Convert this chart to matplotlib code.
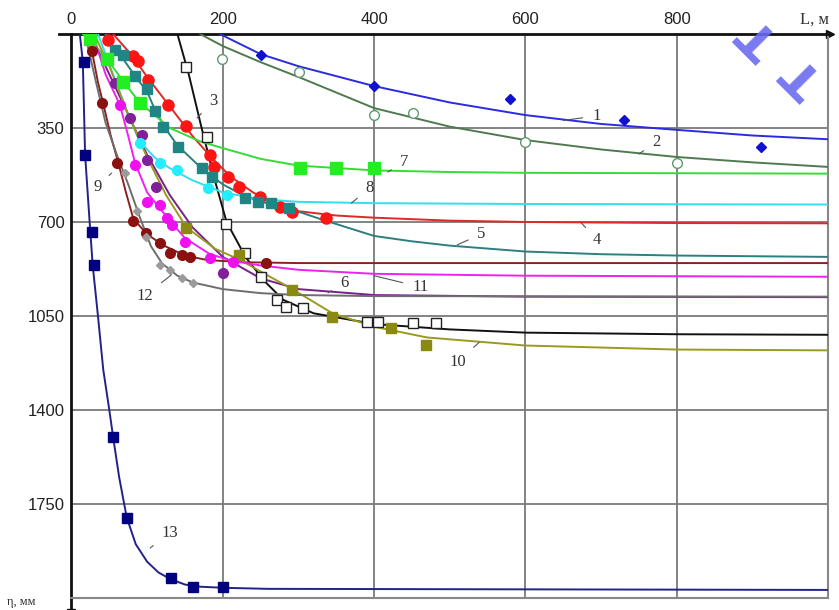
import matplotlib.pyplot as plt

# --- data: L (m) vs eta (mm) ---
# fitted curves (line) and measured points (markers) for curves 1..13
c1_x = [196, 250, 300, 400, 500, 600, 700, 800, 900, 1000]
c1_y = [0, 75, 120, 194, 255, 302, 335, 357, 378, 392]
p1_x = [251, 400, 580, 730, 911]
p1_y = [78, 194, 242, 320, 421]

c2_x = [170, 200, 250, 300, 400, 500, 600, 700, 800, 900, 1000]
c2_y = [0, 45, 105, 160, 276, 345, 395, 430, 458, 478, 495]
p2_x = [199, 301, 400, 451, 600, 800]
p2_y = [93, 141, 302, 294, 402, 480]

c3_x = [140, 155, 172, 190, 205, 230, 255, 280, 320, 400, 500, 600, 800, 1000]
c3_y = [0, 150, 350, 550, 700, 830, 920, 990, 1040, 1080, 1100, 1112, 1118, 1120]
p3_x = [151, 179, 204, 229, 251, 271, 284, 306, 390, 405, 451, 482]
p3_y = [123, 383, 707, 815, 905, 990, 1016, 1020, 1072, 1072, 1076, 1076]

c4_x = [55, 80, 100, 130, 160, 185, 210, 240, 270, 300, 350, 400, 500, 600, 800, 1000]
c4_y = [0, 80, 160, 270, 380, 460, 530, 590, 635, 660, 676, 684, 695, 700, 704, 705]
p4_x = [48, 81, 88, 101, 128, 151, 183, 189, 207, 222, 249, 275, 291, 337]
p4_y = [22, 83, 100, 171, 264, 342, 450, 495, 532, 570, 607, 644, 663, 685]

c5_x = [45, 57, 70, 85, 100, 110, 125, 140, 170, 200, 230, 260, 290, 330, 400, 450, 500, 600, 700, 800, 1000]
c5_y = [0, 60, 100, 160, 215, 280, 355, 415, 495, 560, 605, 632, 652, 690, 752, 772, 788, 810, 820, 825, 830]
p5_x = [57, 68, 84, 100, 110, 121, 141, 172, 186, 229, 246, 264, 288]
p5_y = [60, 80, 158, 205, 287, 346, 420, 498, 532, 611, 625, 629, 648]

c6_x = [25, 50, 75, 100, 130, 160, 200, 250, 300, 400, 600, 1000]
c6_y = [0, 150, 300, 450, 600, 720, 830, 910, 950, 972, 978, 980]
p6_x = [57, 77, 93, 100, 112, 200]
p6_y = [183, 313, 376, 469, 569, 890]

c7_x = [15, 24, 47, 68, 90, 130, 170, 200, 250, 300, 400, 500, 600, 1000]
c7_y = [0, 20, 93, 175, 255, 350, 400, 425, 465, 490, 508, 514, 517, 520]
p7_x = [24, 47, 68, 90, 302, 350, 400]
p7_y = [19, 93, 179, 257, 500, 500, 500]

c8_x = [35, 55, 75, 90, 110, 130, 160, 200, 250, 300, 400, 600, 1000]
c8_y = [0, 150, 300, 400, 460, 500, 545, 590, 615, 625, 630, 633, 635]
p8_x = [90, 117, 139, 180, 205]
p8_y = [406, 480, 506, 573, 600]

c9_x = [20, 27, 35, 42, 52, 62, 72, 82, 100, 120, 150, 180, 230, 300, 1000]
c9_y = [0, 63, 180, 260, 380, 480, 590, 690, 745, 785, 825, 842, 850, 853, 853]
p9_x = [27, 40, 60, 81, 99, 117, 130, 146, 156, 257]
p9_y = [63, 257, 480, 696, 741, 778, 815, 823, 830, 853]

c10_x = [30, 50, 75, 100, 125, 152, 190, 222, 260, 292, 345, 400, 470, 600, 800, 1000]
c10_y = [0, 120, 300, 460, 600, 720, 800, 840, 900, 950, 1040, 1090, 1130, 1160, 1175, 1178]
p10_x = [152, 222, 292, 345, 423, 469]
p10_y = [722, 823, 953, 1053, 1095, 1158]

c11_x = [28, 45, 64, 75, 84, 100, 117, 133, 150, 183, 213, 250, 300, 400, 600, 1000]
c11_y = [0, 150, 264, 380, 480, 590, 650, 705, 760, 820, 845, 862, 878, 893, 900, 904]
p11_x = [64, 84, 100, 117, 126, 133, 150, 183, 213]
p11_y = [264, 488, 625, 636, 685, 711, 774, 834, 849]

c12_x = [18, 30, 45, 60, 75, 90, 105, 120, 140, 160, 200, 250, 300, 400, 1000]
c12_y = [0, 150, 330, 450, 560, 680, 790, 855, 900, 925, 950, 965, 972, 976, 978]
p12_x = [71, 86, 99, 117, 130, 146, 161]
p12_y = [518, 660, 756, 860, 879, 909, 927]

c13_x = [11, 15, 18, 24, 28, 35, 42, 50, 55, 63, 73, 85, 100, 115, 131, 150, 170, 200, 260, 1000]
c13_y = [0, 104, 450, 700, 860, 1050, 1250, 1400, 1500, 1650, 1800, 1900, 1965, 2005, 2030, 2050, 2058, 2062, 2066, 2070]
p13_x = [16, 18, 27, 30, 55, 73, 131, 160, 200]
p13_y = [104, 450, 737, 860, 1500, 1802, 2025, 2059, 2059]

# curve number labels: text position and leader end
lab_txt = ['1', '2', '3', '4', '5', '6', '7', '8', '9', '10', '11', '12', '13']
lab_x = [694, 773, 187, 695, 542, 361, 440, 394, 34, 510, 461, 97, 130]
lab_y = [305, 402, 250, 767, 745, 927, 477, 573, 570, 1221, 942, 975, 1857]
lead_x = [650, 750, 166, 674, 510, 339, 418, 370, 53, 539, 400, 132, 104]
lead_y = [322, 447, 313, 704, 785, 964, 514, 630, 518, 1148, 900, 897, 1914]

xticks = [0, 200, 400, 600, 800]
yticks = [350, 700, 1050, 1400, 1750]

fig = plt.figure(figsize=(8.39, 6.10), dpi=100)
ax = fig.add_axes([0.0852, 0.0197, 0.9017, 0.9246])

curves = [
    (c1_x, c1_y, p1_x, p1_y, '#2b2be0', '#1010d0', 'D', 5, True),
    (c2_x, c2_y, p2_x, p2_y, '#4f7a4f', '#5f9a6f', 'o', 7, False),
    (c3_x, c3_y, p3_x, p3_y, '#111111', '#222222', 's', 7, False),
    (c4_x, c4_y, p4_x, p4_y, '#e02828', '#ff1414', 'o', 8, True),
    (c5_x, c5_y, p5_x, p5_y, '#2d7f7f', '#1f8585', 's', 7, True),
    (c6_x, c6_y, p6_x, p6_y, '#7a1f8a', '#80209a', 'o', 7, True),
    (c7_x, c7_y, p7_x, p7_y, '#33dd33', '#22ee22', 's', 8, True),
    (c8_x, c8_y, p8_x, p8_y, '#33ddee', '#22eeff', 'o', 7, True),
    (c9_x, c9_y, p9_x, p9_y, '#8a2222', '#8b1010', 'o', 7, True),
    (c10_x, c10_y, p10_x, p10_y, '#9a9a20', '#8a8a10', 's', 7, True),
    (c11_x, c11_y, p11_x, p11_y, '#ee22ee', '#ee10ee', 'o', 7, True),
    (c12_x, c12_y, p12_x, p12_y, '#6e6e6e', '#9a9a9a', 'D', 4, True),
    (c13_x, c13_y, p13_x, p13_y, '#22228a', '#000080', 's', 7, True),
]

for cx, cy, px, py, lc, mc, mk, ms, filled in curves:
    ax.plot(cx, cy, color=lc, lw=1.4, zorder=3)
    if filled:
        ax.plot(px, py, ls='none', marker=mk, ms=ms, color=mc, mec=mc, zorder=4)
    else:
        ax.plot(px, py, ls='none', marker=mk, ms=ms, mfc='white', mec=mc, mew=1.0, zorder=4)

for t, tx, ty, lx, ly in zip(lab_txt, lab_x, lab_y, lead_x, lead_y):
    ax.annotate(t, xy=(lx, ly), xytext=(tx, ty), ha='center', va='center',
                fontsize=12, family='Liberation Serif', color='#333333',
                arrowprops=dict(arrowstyle='-', color='#555555', lw=0.8,
                                shrinkA=5, shrinkB=0), zorder=5)

ax.set_xlim(0, 1000)
ax.set_ylim(2100, 0)
ax.set_xticks(xticks)
ax.set_yticks(yticks)
ax.xaxis.tick_top()
ax.tick_params(length=0, labelsize=12, colors='#222222', pad=5)
for lbl in ax.get_xticklabels() + ax.get_yticklabels():
    lbl.set_family('Liberation Sans')
ax.grid(True, color='#7a7a7a', lw=1.3)
ax.set_axisbelow(True)

ax.spines['top'].set_linewidth(2)
ax.spines['left'].set_linewidth(2)
ax.spines['top'].set_color('#111111')
ax.spines['left'].set_color('#111111')
ax.spines['right'].set_color('#888888')
ax.spines['bottom'].set_color('#888888')
ax.spines['right'].set_linewidth(1.5)
ax.spines['bottom'].set_linewidth(1.5)

# axis extensions and arrows
ax.plot([-16, 0], [0, 0], color='#111111', lw=2, clip_on=False)
ax.plot([0, 0], [2100, 2150], color='#111111', lw=2, clip_on=False)
ax.plot([0], [2155], marker='v', ms=6, color='#111111', clip_on=False)
ax.plot([1003], [0], marker='>', ms=6, color='#111111', clip_on=False)

fig.text(0.953, 0.962, 'L, м', fontsize=12, family='Liberation Serif', color='#333333')
fig.text(0.008, 0.008, 'η, мм', fontsize=9, family='Liberation Serif', color='#333333')

# watermark fragments in the corner
fig.text(0.905, 0.94, 'T', fontsize=36, weight='bold', color='#6b6bf0', alpha=0.9,
         rotation=135, ha='center', va='center')
fig.text(0.958, 0.875, 'T', fontsize=36, weight='bold', color='#6b6bf0', alpha=0.9,
         rotation=135, ha='center', va='center')

plt.savefig('out.png', dpi=100)
